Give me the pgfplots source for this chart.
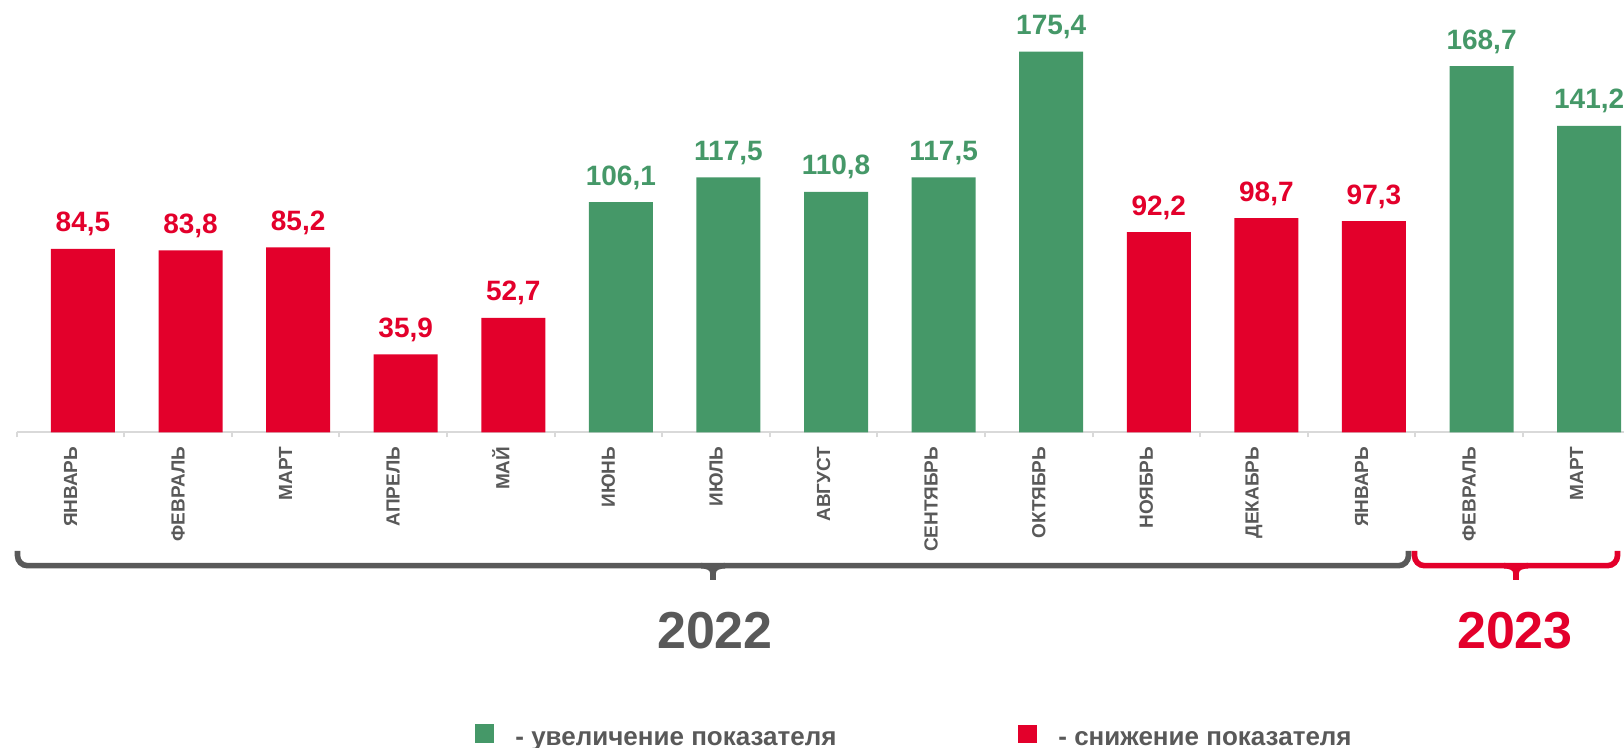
\documentclass[border=0pt]{standalone}
\usepackage{fontspec}
\setmainfont{Liberation Sans}
\usepackage{pgfplots}
\pgfplotsset{compat=1.18}
\definecolor{cgreen}{RGB}{69,152,104}
\definecolor{cred}{RGB}{227,0,43}
\definecolor{cgray}{RGB}{89,89,89}
\definecolor{caxis}{RGB}{217,217,217}
\begin{document}
\begin{tikzpicture}
\begin{axis}[
  at={(8.35pt,157.85pt)}, anchor=south west,
  scale only axis, width=803.65pt, height=206.15pt,
  xmin=0, xmax=14.94, ymin=0, ymax=190,
  clip=false,
  axis x line=bottom, axis y line=none,
  x axis line style={draw=caxis, line width=1pt, -},
  ytick=\empty,
  xtick={0.5,1.5,...,14.5},
  xticklabels={ЯНВАРЬ,ФЕВРАЛЬ,МАРТ,АПРЕЛЬ,МАЙ,ИЮНЬ,ИЮЛЬ,АВГУСТ,СЕНТЯБРЬ,ОКТЯБРЬ,НОЯБРЬ,ДЕКАБРЬ,ЯНВАРЬ,ФЕВРАЛЬ,МАРТ},
  major tick length=0pt,
  minor xtick={0,1,...,14},
  minor tick length=2.5pt,
  tick align=outside,
  minor tick style={draw=caxis, line width=1pt},
  xticklabel shift=7pt,
  xticklabel style={rotate=90, anchor=east, inner sep=0pt, font=\bfseries\fontsize{9.5}{9.5}\selectfont, text=cgray},
  nodes near coords={\pgfplotspointmeta},
  point meta=explicit symbolic,
  every node near coord/.append style={font=\bfseries\fontsize{14}{14}\selectfont, anchor=base, inner sep=0pt, yshift=8.5pt},
]
\addplot[ybar, bar shift=0pt, bar width=0.595, fill=cred, draw=none,
  every node near coord/.append style={text=cred}] coordinates {
  (0.616,84.5) [84,5]
  (1.616,83.8) [83,8]
  (2.616,85.2) [85,2]
  (3.616,35.9) [35,9]
  (4.616,52.7) [52,7]
  (10.616,92.2) [92,2]
  (11.616,98.7) [98,7]
  (12.616,97.3) [97,3]
};
\addplot[ybar, bar shift=0pt, bar width=0.595, fill=cgreen, draw=none,
  every node near coord/.append style={text=cgreen}] coordinates {
  (5.616,106.1) [106,1]
  (6.616,117.5) [117,5]
  (7.616,110.8) [110,8]
  (8.616,117.5) [117,5]
  (9.616,175.4) [175,4]
  (13.616,168.7) [168,7]
  (14.616,141.2) [141,2]
};
\end{axis}
\begin{scope}[shift={(0,374pt)}, x=0.5pt, y=-0.5pt]
  % 2022 brace
  \draw[cgray, line width=2.8pt, rounded corners=5pt] (17.5,551) -- (17.5,565.7) -- (1408.5,565.7) -- (1408.5,551);
  \draw[cgray, line width=2.8pt] (701,565.7) to[out=0,in=90] (713,573) -- (713,580);
  \draw[cgray, line width=2.8pt] (725,565.7) to[out=180,in=90] (713,573);
  % 2023 brace
  \draw[cred, line width=2.8pt, rounded corners=5pt] (1414.5,551) -- (1414.5,565.7) -- (1617.5,565.7) -- (1617.5,551);
  \draw[cred, line width=2.8pt] (1504,565.7) to[out=0,in=90] (1516,573) -- (1516,580);
  \draw[cred, line width=2.8pt] (1528,565.7) to[out=180,in=90] (1516,573);
  % years
  \node[anchor=base, inner sep=0pt, font=\bfseries\fontsize{26}{26}\selectfont, text=cgray] at (715,648.3) {2022};
  \node[anchor=base, inner sep=0pt, font=\bfseries\fontsize{26}{26}\selectfont, text=cred] at (1515,649) {2023};
  % legend
  \fill[cgreen] (475,724.3) rectangle (494,742.7);
  \node[anchor=base west, inner sep=0pt, font=\bfseries\fontsize{13}{13}\selectfont, text=cgray] at (515,745.5) {- увеличение показателя};
  \fill[cred] (1018.3,725) rectangle (1037.3,743.3);
  \node[anchor=base west, inner sep=0pt, font=\bfseries\fontsize{13}{13}\selectfont, text=cgray] at (1058,745.5) {- снижение показателя};
\end{scope}
\pgfresetboundingbox
\path[use as bounding box] (0,0) rectangle (812pt,374pt);
\end{tikzpicture}
\end{document}
